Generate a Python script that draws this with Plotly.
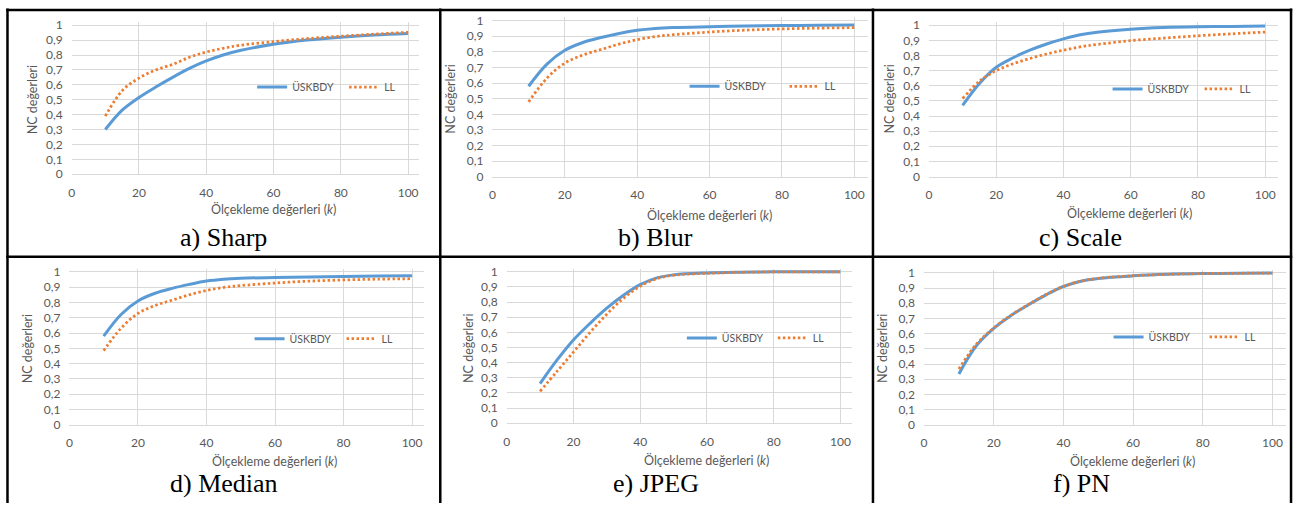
import plotly.graph_objects as go

# ---------------- data ----------------
k_values = [10, 15, 20, 25, 30, 35, 40, 45, 50, 60, 70, 80, 90, 100]

sharp_uskbdy = [0.30, 0.43, 0.515, 0.585, 0.65, 0.71, 0.76, 0.80, 0.83, 0.872, 0.90, 0.92, 0.935, 0.945]
sharp_ll     = [0.39, 0.56, 0.645, 0.70, 0.737, 0.785, 0.82, 0.845, 0.865, 0.89, 0.91, 0.926, 0.94, 0.952]

blur_uskbdy = [0.58, 0.72, 0.81, 0.86, 0.892, 0.918, 0.938, 0.95, 0.956, 0.961, 0.965, 0.968, 0.970, 0.972]
blur_ll     = [0.48, 0.63, 0.728, 0.78, 0.815, 0.85, 0.878, 0.898, 0.91, 0.927, 0.939, 0.947, 0.952, 0.955]

scale_uskbdy = [0.47, 0.615, 0.722, 0.785, 0.835, 0.876, 0.91, 0.937, 0.954, 0.974, 0.985, 0.99, 0.992, 0.995]
scale_ll     = [0.515, 0.63, 0.70, 0.745, 0.78, 0.81, 0.835, 0.857, 0.873, 0.898, 0.915, 0.93, 0.943, 0.955]

median_uskbdy = [0.58, 0.72, 0.81, 0.86, 0.892, 0.918, 0.94, 0.952, 0.958, 0.963, 0.967, 0.970, 0.972, 0.975]
median_ll     = [0.485, 0.63, 0.728, 0.78, 0.815, 0.85, 0.878, 0.898, 0.91, 0.927, 0.939, 0.947, 0.952, 0.955]

jpeg_uskbdy = [0.262, 0.415, 0.55, 0.66, 0.76, 0.845, 0.915, 0.96, 0.98, 0.993, 0.998, 1.0, 1.0, 1.0]
jpeg_ll     = [0.21, 0.34, 0.47, 0.60, 0.72, 0.825, 0.905, 0.955, 0.978, 0.99, 0.997, 1.0, 1.0, 1.0]

pn_uskbdy = [0.335, 0.52, 0.635, 0.72, 0.79, 0.855, 0.91, 0.945, 0.963, 0.98, 0.99, 0.995, 0.997, 0.998]
pn_ll     = [0.368, 0.53, 0.637, 0.722, 0.792, 0.857, 0.91, 0.945, 0.964, 0.981, 0.99, 0.995, 0.997, 0.998]

panel_captions = ["a) Sharp", "b) Blur", "c) Scale", "d) Median", "e) JPEG", "f) PN"]
series_names = ["ÜSKBDY", "LL"]
x_tick_vals = [0, 20, 40, 60, 80, 100]
y_tick_vals = [0, 0.1, 0.2, 0.3, 0.4, 0.5, 0.6, 0.7, 0.8, 0.9, 1.0]
y_tick_labels = ["0", "0,1", "0,2", "0,3", "0,4", "0,5", "0,6", "0,7", "0,8", "0,9", "1"]
x_title = "Ölçekleme değerleri (<i>k</i>)"
y_title = "NC değerleri"

panel_series = [
    (sharp_uskbdy, sharp_ll),
    (blur_uskbdy, blur_ll),
    (scale_uskbdy, scale_ll),
    (median_uskbdy, median_ll),
    (jpeg_uskbdy, jpeg_ll),
    (pn_uskbdy, pn_ll),
]

# ---------------- layout (pixel geometry) ----------------
W, H = 1301, 508
def px(x):
    return x / W
def py(y):
    return 1 - y / H

# x0 pixel (value 0), x100 pixel, right end pixel, y0 pixel (value 0), y1 pixel (value 1)
geom = [
    dict(x0=69.0, x100=407.0, xend=418.0, y0=173.3, y1=20.7, ew=47,
         leg=(258.3, 84.0), xt=(271.7, 209.3), yt=(30.0, 96.7), cap=(221.7, 238.0)),
    dict(x0=491.7, x100=855.3, xend=869.0, y0=176.0, y1=16.0, ew=55,
         leg=(692.7, 83.3), xt=(709.7, 215.0), yt=(449.3, 96.7), cap=(656.0, 238.0)),
    dict(x0=930.3, x100=1268.0, xend=1281.0, y0=175.7, y1=20.7, ew=47,
         leg=(1117.7, 86.0), xt=(1132.0, 213.3), yt=(890.3, 96.7), cap=(1082.7, 238.0)),
    dict(x0=66.7, x100=411.0, xend=422.7, y0=430.0, y1=273.3, ew=47,
         leg=(255.7, 341.7), xt=(272.3, 467.3), yt=(25.0, 351.7), cap=(221.7, 490.0)),
    dict(x0=506.0, x100=841.3, xend=853.0, y0=428.3, y1=273.3, ew=46,
         leg=(690.0, 341.0), xt=(706.7, 465.7), yt=(467.7, 351.7), cap=(656.0, 490.0)),
    dict(x0=925.3, x100=1275.3, xend=1288.7, y0=430.0, y1=274.3, ew=51,
         leg=(1118.7, 340.0), xt=(1135.0, 467.0), yt=(883.7, 351.7), cap=(1083.7, 490.0)),
]

BLUE = "#5B9BD5"
ORANGE = "#ED7D31"
GRID = "#D9D9D9"
TXT = "#595959"
FONT = "Lato"
YTOP = 1.02

fig = go.Figure()
layout = dict(
    width=W, height=H,
    margin=dict(l=0, r=0, t=0, b=0),
    paper_bgcolor="white", plot_bgcolor="white",
    showlegend=True,
    annotations=[], shapes=[],
)

for i, (g, (s_blue, s_orange)) in enumerate(zip(geom, panel_series)):
    n = i + 1
    sfx = "" if n == 1 else str(n)
    xa = "x" + sfx
    ya = "y" + sfx
    leg = "legend" + sfx

    fig.add_trace(go.Scatter(
        x=k_values, y=s_blue, mode="lines", name=series_names[0],
        line=dict(color=BLUE, width=3, shape="spline", smoothing=1.0),
        xaxis=xa, yaxis=ya, legend=leg, hoverinfo="skip"))
    fig.add_trace(go.Scatter(
        x=k_values, y=s_orange, mode="lines", name=series_names[1],
        line=dict(color=ORANGE, width=2.75, shape="spline", smoothing=1.0, dash="2.5px,2.5px"),
        xaxis=xa, yaxis=ya, legend=leg, hoverinfo="skip"))

    scale_x = (g["x100"] - g["x0"]) / 100.0
    xmax = (g["xend"] - g["x0"]) / scale_x
    ytop_px = g["y1"] - (YTOP - 1) * (g["y0"] - g["y1"])

    layout["xaxis" + sfx] = dict(
        domain=[px(g["x0"]), px(g["xend"])], range=[0, xmax], anchor=ya,
        tickvals=x_tick_vals, showgrid=True, gridcolor=GRID, gridwidth=1,
        zeroline=False, showline=True, linecolor=GRID, linewidth=1,
        ticks="", ticklabelstandoff=7,
        tickfont=dict(family=FONT, size=12, color=TXT), fixedrange=True)
    layout["yaxis" + sfx] = dict(
        domain=[py(g["y0"]), py(ytop_px)], range=[0, YTOP], anchor=xa,
        tickvals=y_tick_vals, ticktext=y_tick_labels,
        showgrid=True, gridcolor=GRID, gridwidth=1,
        zeroline=False, showline=False, ticks="", ticklabelstandoff=8,
        tickfont=dict(family=FONT, size=12, color=TXT), fixedrange=True)

    layout[leg] = dict(
        x=px(g["leg"][0] - 8), y=py(g["leg"][1]), xanchor="left", yanchor="middle",
        orientation="h", bgcolor="rgba(0,0,0,0)", borderwidth=0,
        font=dict(family=FONT, size=10.5, color=TXT), itemwidth=30,
        entrywidth=g["ew"], entrywidthmode="pixels")

    layout["annotations"].append(dict(
        text=x_title, x=px(g["xt"][0]), y=py(g["xt"][1]), xref="paper", yref="paper",
        showarrow=False, xanchor="center", yanchor="middle",
        font=dict(family=FONT, size=12.5, color=TXT)))
    layout["annotations"].append(dict(
        text=y_title, x=px(g["yt"][0]), y=py(g["yt"][1]), xref="paper", yref="paper",
        showarrow=False, xanchor="center", yanchor="middle", textangle=-90,
        font=dict(family=FONT, size=12.5, color=TXT)))
    layout["annotations"].append(dict(
        text=panel_captions[i], x=px(g["cap"][0]), y=py(g["cap"][1]), xref="paper", yref="paper",
        showarrow=False, xanchor="center", yanchor="middle",
        font=dict(family="Liberation Serif", size=26, color="black")))

# table borders
border = dict(type="line", xref="paper", yref="paper", line=dict(color="black", width=2.5))
for xv in [4.5, 439.3, 874.0, 1294.0]:
    layout["shapes"].append(dict(border, x0=px(xv), x1=px(xv), y0=py(3.5), y1=py(H + 2)))
for yv in [5.0, 257.8]:
    layout["shapes"].append(dict(border, x0=px(3.3), x1=px(1295.2), y0=py(yv), y1=py(yv)))

fig.update_layout(**layout)
fig.write_html(
    "out.html",
    config={"displayModeBar": False, "staticPlot": True},
    post_script="document.body.style.margin='0px';document.body.style.padding='0px';"
                "document.body.style.overflow='hidden';",
)
